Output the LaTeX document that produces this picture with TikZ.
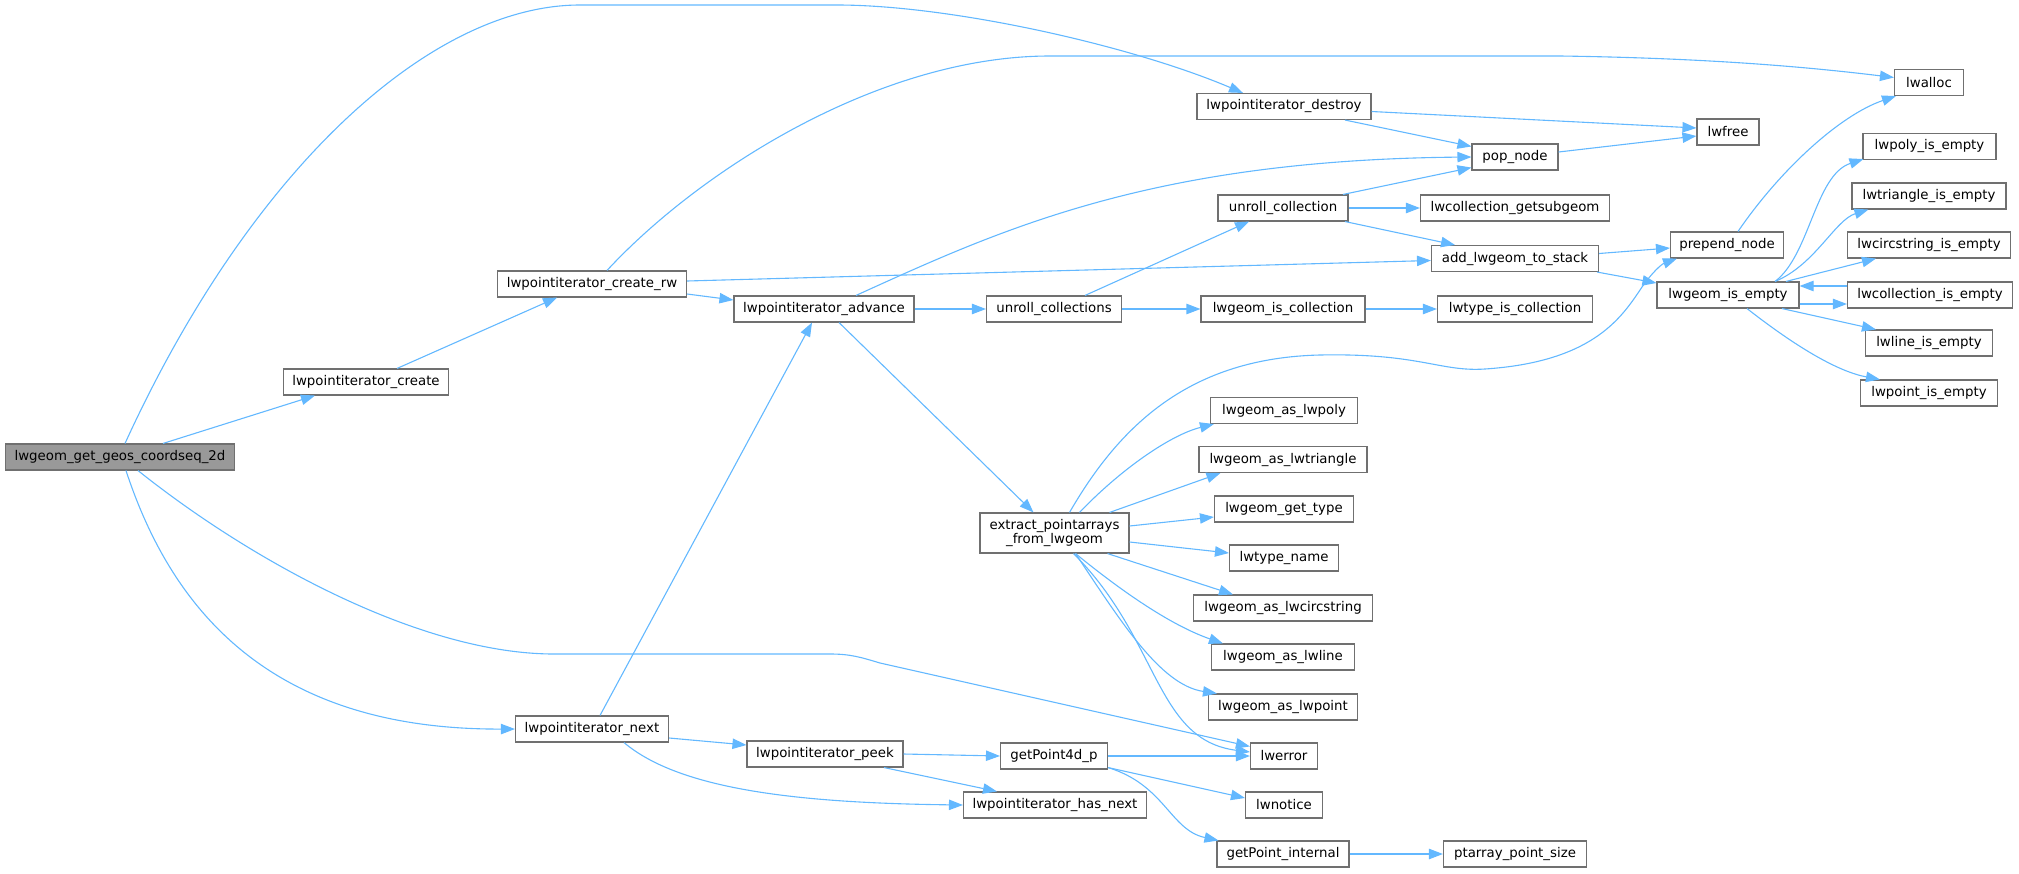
\documentclass[tikz,border=0pt]{standalone}
\usepackage{fontspec}
\setmainfont{DejaVu Sans}
\usetikzlibrary{arrows.meta,calc}
\definecolor{edgec}{HTML}{63B8FF}
\definecolor{boxc}{HTML}{707070}
\definecolor{rootc}{HTML}{999999}
\begin{document}
\begin{tikzpicture}[x=0.5pt,y=-0.5pt,
  box/.style={draw=boxc, fill=white, line width=0.55pt, minimum height=13pt, inner sep=0pt,
    font=\fontsize{6.67}{7.2}\selectfont, align=center},
  edge/.style={draw=edgec, line width=0.55pt, -{Triangle[length=7pt,width=5.2pt]}}]
\useasboundingbox (0,0) rectangle (2019,873);

\node[box, fill=rootc, minimum width=114.5pt] (getgeos) at (120,457) {lwgeom\_get\_geos\_coordseq\_2d};
\node[box, minimum width=82.5pt] (create) at (366,382) {lwpointiterator\_create};
\node[box, minimum width=94.5pt] (createrw) at (592,284) {lwpointiterator\_create\_rw};
\node[box, minimum width=76.5pt] (next) at (592,729) {lwpointiterator\_next};
\node[box, minimum width=90pt] (advance) at (824,309) {lwpointiterator\_advance};
\node[box, minimum width=78pt] (peek) at (825,754) {lwpointiterator\_peek};
\node[box, minimum width=87pt] (destroy) at (1284,106.5) {lwpointiterator\_destroy};
\node[box, minimum width=67.5pt] (unrollcs) at (1054,309) {unroll\_collections};
\node[box, minimum width=74.5pt, minimum height=20pt] (extract) at (1054.5,533) {extract\_pointarrays\\\_from\_lwgeom};
\node[box, minimum width=53.5pt] (getp4d) at (1054,756) {getPoint4d\_p};
\node[box, minimum width=91.5pt] (hasnext) at (1055,805) {lwpointiterator\_has\_next};
\node[box, minimum width=65pt] (unrollc) at (1283,208) {unroll\_collection};
\node[box, minimum width=82pt] (iscoll) at (1283,309) {lwgeom\_is\_collection};
\node[box, minimum width=73.5pt] (aspoly) at (1284,410.5) {lwgeom\_as\_lwpoly};
\node[box, minimum width=84pt] (astri) at (1283,459.5) {lwgeom\_as\_lwtriangle};
\node[box, minimum width=69.5pt] (gettype) at (1284,509) {lwgeom\_get\_type};
\node[box, minimum width=54.5pt] (typename) at (1284,558) {lwtype\_name};
\node[box, minimum width=89.5pt] (ascirc) at (1283,608) {lwgeom\_as\_lwcircstring};
\node[box, minimum width=71.5pt] (asline) at (1283,657) {lwgeom\_as\_lwline};
\node[box, minimum width=74.5pt] (aspoint) at (1283,707) {lwgeom\_as\_lwpoint};
\node[box, minimum width=33.5pt] (lwerror) at (1284,756) {lwerror};
\node[box, minimum width=38.5pt] (lwnotice) at (1284,805) {lwnotice};
\node[box, minimum width=66pt] (getpint) at (1283,854) {getPoint\_internal};
\node[box, minimum width=43pt] (popnode) at (1515,157) {pop\_node};
\node[box, minimum width=94.5pt] (getsub) at (1515,208) {lwcollection\_getsubgeom};
\node[box, minimum width=83.5pt] (addlw) at (1515,258.5) {add\_lwgeom\_to\_stack};
\node[box, minimum width=77.5pt] (typeiscoll) at (1515,309) {lwtype\_is\_collection};
\node[box, minimum width=71.5pt] (ptarray) at (1515,854) {ptarray\_point\_size};
\node[box, minimum width=31pt] (lwfree) at (1728,132) {lwfree};
\node[box, minimum width=56.5pt] (prepend) at (1727,245) {prepend\_node};
\node[box, minimum width=71pt] (isempty) at (1728,295) {lwgeom\_is\_empty};
\node[box, minimum width=34.5pt] (lwalloc) at (1929,82.5) {lwalloc};
\node[box, minimum width=66.5pt] (polyempty) at (1929.5,146.5) {lwpoly\_is\_empty};
\node[box, minimum width=77pt] (triempty) at (1929,196) {lwtriangle\_is\_empty};
\node[box, minimum width=81.5pt] (circempty) at (1929,245) {lwcircstring\_is\_empty};
\node[box, minimum width=82.5pt] (collempty) at (1930,295) {lwcollection\_is\_empty};
\node[box, minimum width=63.5pt] (lineempty) at (1929,343) {lwline\_is\_empty};
\node[box, minimum width=68.5pt] (pointempty) at (1929,393) {lwpoint\_is\_empty};

% root edges
\draw[edge] ($(getgeos.north)+(43,0)$) -- ($(create.south)+(-51,0)$);
\draw[edge] ($(getgeos.north)+(5,0)$) .. controls (250,170) and (430,5) .. (580,5) -- (837,5)
  .. controls (950,5) and (1130,45) .. ($(destroy.north)+(-41,0)$);
\draw[edge] ($(getgeos.south)+(6,0)$) .. controls (175,620) and (280,730) .. (next.west);
\draw[edge] ($(getgeos.south)+(18,0)$) .. controls (250,560) and (420,654) .. (554,654) -- (830,654)
  .. controls (850,654) and (860,657) .. (880,663) -- ($(lwerror.north west)+(0,4)$);
% create
\draw[edge] ($(create.north)+(31,0)$) -- ($(createrw.south)+(-35,0)$);
% create_rw
\draw[edge] ($(createrw.north)+(15,0)$) .. controls (700,170) and (880,56) .. (1050,56) -- (1560,56)
  .. controls (1700,58) and (1800,66) .. ($(lwalloc.west)+(0,-5)$);
\draw[edge] ($(createrw.east)+(0,-3)$) -- ($(addlw.west)+(0,2)$);
\draw[edge] ($(createrw.east)+(0,10)$) -- ($(advance.west)+(0,-9)$);
% next
\draw[edge] ($(next.north)+(8,0)$) -- ($(advance.south)+(-12,0)$);
\draw[edge] ($(next.east)+(0,9)$) -- ($(peek.west)+(0,-9)$);
\draw[edge] ($(next.south)+(32,0)$) .. controls (680,790) and (800,803) .. (hasnext.west);
% advance
\draw[edge] ($(advance.north)+(32,0)$) .. controls (1000,230) and (1150,160) .. (popnode.west);
\draw[edge] (advance.east) -- (unrollcs.west);
\draw[edge] ($(advance.south)+(15,0)$) -- ($(extract.north)+(-21,0)$);
% destroy
\draw[edge] ($(destroy.east)+(0,5)$) -- ($(lwfree.west)+(0,-4)$);
\draw[edge] ($(destroy.south)+(61,0)$) -- ($(popnode.north west)+(0,3)$);
\draw[edge] ($(popnode.east)+(0,-5)$) -- ($(lwfree.west)+(0,4)$);
% unroll_collection
\draw[edge] ($(unrollc.north)+(60,0)$) -- ($(popnode.south west)+(0,-3)$);
\draw[edge] (unrollc.east) -- (getsub.west);
\draw[edge] ($(unrollc.south)+(62,0)$) -- ($(addlw.north)+(-60,0)$);
% unroll_collections
\draw[edge] ($(unrollcs.north)+(31,0)$) -- ($(unrollc.south)+(-34,0)$);
\draw[edge] (unrollcs.east) -- (iscoll.west);
\draw[edge] (iscoll.east) -- (typeiscoll.west);
% add_lwgeom_to_stack
\draw[edge] ($(addlw.east)+(0,-5)$) -- ($(prepend.west)+(0,3)$);
\draw[edge] ($(addlw.south east)+(-2,0)$) -- ($(isempty.west)+(0,-12)$);
% prepend_node
\draw[edge] ($(prepend.north)+(11,0)$) .. controls (1780,170) and (1840,115) .. ($(lwalloc.south west)+(2,0)$);
% extract
\draw[edge] ($(extract.north)+(15,0)$) .. controls (1120,425) and (1190,358) .. (1320,355)
  .. controls (1420,353) and (1440,372) .. (1485,369)
  .. controls (1590,362) and (1620,320) .. (1640,290)
  .. controls (1652,272) and (1662,264) .. ($(prepend.south west)+(7,0)$);
\draw[edge] ($(extract.north)+(25,0)$) .. controls (1120,470) and (1170,435) .. ($(aspoly.south west)+(4,0)$);
\draw[edge] ($(extract.north)+(55,0)$) -- ($(astri.south west)+(22,0)$);
\draw[edge] ($(extract.east)+(0,-7)$) -- ($(gettype.west)+(0,8)$);
\draw[edge] ($(extract.east)+(0,9)$) -- ($(typename.west)+(0,-5)$);
\draw[edge] ($(extract.south)+(53,0)$) -- ($(ascirc.north)+(-50,0)$);
\draw[edge] ($(extract.south)+(21,0)$) .. controls (1120,590) and (1170,625) .. ($(asline.north west)+(12,0)$);
\draw[edge] ($(extract.south)+(21,0)$) .. controls (1120,620) and (1160,685) .. ($(aspoint.north west)+(9,0)$);
\draw[edge] ($(extract.south)+(19,0)$) .. controls (1160,640) and (1155,740) .. ($(lwerror.west)+(0,-4)$);
% peek / getPoint4d_p
\draw[edge] (peek.east) -- (getp4d.west);
\draw[edge] ($(peek.south)+(59,0)$) -- ($(hasnext.north)+(-58,0)$);
\draw[edge] (getp4d.east) -- (lwerror.west);
\draw[edge] ($(getp4d.south east)+(0,-2)$) -- ($(lwnotice.west)+(0,-7)$);
\draw[edge] ($(getp4d.south east)+(0,-2)$) .. controls (1165,785) and (1170,830) .. ($(getpint.north west)+(2,0)$);
\draw[edge] (getpint.east) -- (ptarray.west);
% lwgeom_is_empty
\draw[edge] ($(isempty.north)+(47,0)$) .. controls (1810,255) and (1815,175) .. ($(polyempty.south west)+(1,-1)$);
\draw[edge] ($(isempty.north)+(47,0)$) .. controls (1815,265) and (1835,220) .. ($(triempty.south west)+(17,0)$);
\draw[edge] ($(isempty.north)+(58,0)$) -- ($(circempty.south west)+(29,0)$);
\draw[edge] ($(collempty.west)+(0,-9)$) -- ($(isempty.east)+(0,-9)$);
\draw[edge] ($(isempty.east)+(0,9)$) -- ($(collempty.west)+(0,9)$);
\draw[edge] ($(isempty.south)+(54,0)$) -- ($(lineempty.north west)+(11,0)$);
\draw[edge] ($(isempty.south)+(19,0)$) .. controls (1800,350) and (1840,372) .. ($(pointempty.north west)+(20,0)$);
\end{tikzpicture}
\end{document}
